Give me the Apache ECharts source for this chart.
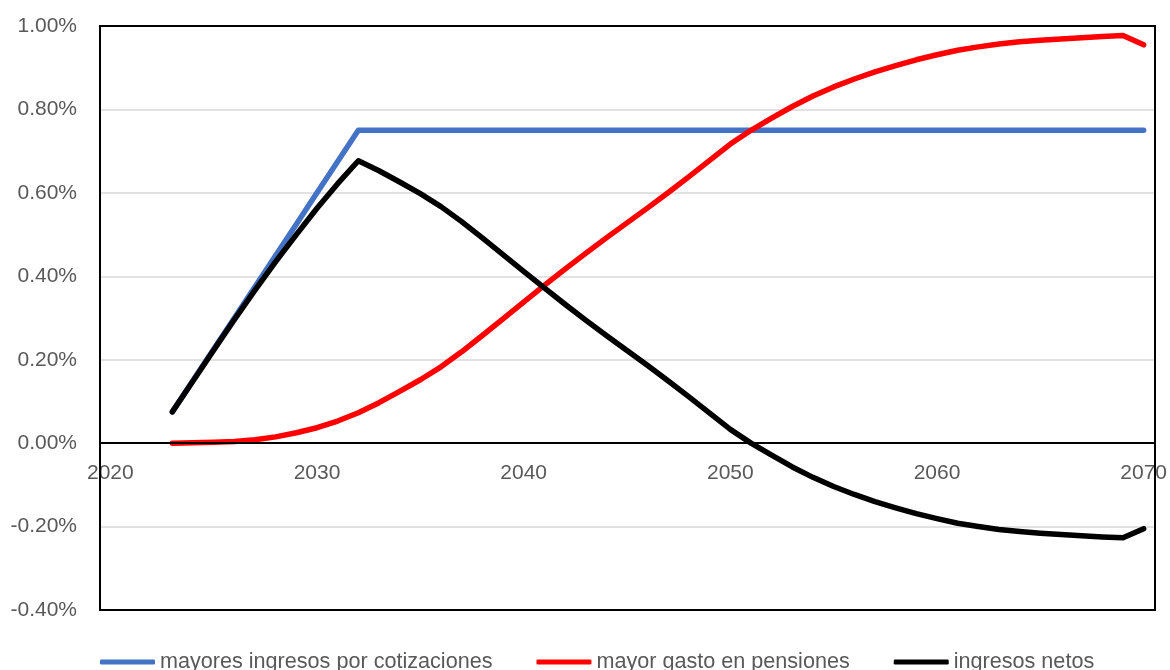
<!DOCTYPE html>
<html>
<head>
<meta charset="utf-8">
<script src="https://cdn.jsdelivr.net/npm/echarts@6/dist/echarts.min.js"></script>
<style>
  html, body { margin: 0; padding: 0; background: #fff; }
  #chart { width: 1170px; height: 670px; }
</style>
</head>
<body>
<div id="chart"></div>
<script>
// Years on the category axis (labels shown every 10 years)
const years = [
  '2020','2021','2022','2023','2024','2025','2026','2027','2028','2029',
  '2030','2031','2032','2033','2034','2035','2036','2037','2038','2039',
  '2040','2041','2042','2043','2044','2045','2046','2047','2048','2049',
  '2050','2051','2052','2053','2054','2055','2056','2057','2058','2059',
  '2060','2061','2062','2063','2064','2065','2066','2067','2068','2069',
  '2070'
];

// Values in percentage points of GDP; null where the series has no value yet
const mayoresIngresos = [
  null, null, null, 0.075, 0.150, 0.225, 0.300, 0.375, 0.450, 0.525,
  0.600, 0.675, 0.750, 0.750, 0.750, 0.750, 0.750, 0.750, 0.750, 0.750,
  0.750, 0.750, 0.750, 0.750, 0.750, 0.750, 0.750, 0.750, 0.750, 0.750,
  0.750, 0.750, 0.750, 0.750, 0.750, 0.750, 0.750, 0.750, 0.750, 0.750,
  0.750, 0.750, 0.750, 0.750, 0.750, 0.750, 0.750, 0.750, 0.750, 0.750,
  0.750
];

const mayorGasto = [
  null, null, null, 0.000, 0.001, 0.002, 0.004, 0.008, 0.015, 0.025,
  0.037, 0.053, 0.073, 0.097, 0.124, 0.152, 0.183, 0.219, 0.258, 0.298,
  0.338, 0.378, 0.417, 0.455, 0.492, 0.528, 0.564, 0.601, 0.639, 0.678,
  0.717, 0.750, 0.779, 0.807, 0.832, 0.854, 0.873, 0.890, 0.905, 0.919,
  0.931, 0.942, 0.950, 0.957, 0.962, 0.966, 0.969, 0.972, 0.975, 0.977,
  0.955
];

const ingresosNetos = [
  null, null, null, 0.075, 0.149, 0.223, 0.296, 0.367, 0.435, 0.500,
  0.563, 0.622, 0.677, 0.653, 0.626, 0.598, 0.567, 0.531, 0.492, 0.452,
  0.412, 0.372, 0.333, 0.295, 0.258, 0.222, 0.186, 0.149, 0.111, 0.072,
  0.033, 0.000, -0.029, -0.057, -0.082, -0.104, -0.123, -0.140, -0.155, -0.169,
  -0.181, -0.192, -0.200, -0.207, -0.212, -0.216, -0.219, -0.222, -0.225, -0.227,
  -0.205
];

const seriesNames = [
  'mayores ingresos por cotizaciones',
  'mayor gasto en pensiones',
  'ingresos netos'
];
const seriesColors = ['#4472C4', '#FF0000', '#000000'];

const FONT = 'Liberation Sans, Arial, sans-serif';
const TEXT = '#595959';

// Plot area
const PLOT = { left: 100, top: 26, right: 15, bottom: 60 };
const PLOT_W = 1170 - PLOT.left - PLOT.right;
const PLOT_H = 670 - PLOT.top - PLOT.bottom;
const Y_MIN = -0.4, Y_MAX = 1.0;
// distance from the bottom edge of the plot up to the zero line
const ZERO_OFFSET = PLOT_H * (0 - Y_MIN) / (Y_MAX - Y_MIN);

const chart = echarts.init(document.getElementById('chart'), null, { renderer: 'canvas' });

function lineSeries(name, data, color) {
  return {
    name: name,
    type: 'line',
    data: data,
    showSymbol: false,
    symbol: 'none',
    connectNulls: false,
    animation: false,
    z: 3,
    lineStyle: { color: color, width: 5.5, cap: 'round', join: 'round' },
    itemStyle: { color: color }
  };
}

chart.setOption({
  backgroundColor: '#ffffff',
  animation: false,
  textStyle: { fontFamily: FONT },
  grid: {
    left: PLOT.left, top: PLOT.top, right: PLOT.right, bottom: PLOT.bottom,
    containLabel: false
  },
  legend: {
    left: 100,
    top: 651,
    padding: 0,
    icon: 'roundRect',
    itemWidth: 55,
    itemHeight: 5,
    itemGap: 44,
    textStyle: { color: TEXT, fontSize: 21.6, fontFamily: FONT },
    data: seriesNames
  },
  // plot frame drawn above the gridlines
  graphic: [{
    type: 'rect',
    z: 10,
    silent: true,
    shape: { x: PLOT.left, y: PLOT.top, width: PLOT_W, height: PLOT_H },
    style: { fill: null, stroke: '#000000', lineWidth: 2 }
  }],
  xAxis: {
    type: 'category',
    data: years,
    boundaryGap: true,
    position: 'bottom',
    offset: -ZERO_OFFSET,
    z: 4,
    axisLine: { onZero: false, lineStyle: { color: '#000000', width: 2 } },
    axisTick: { show: false },
    axisLabel: {
      interval: 9,
      margin: 20,
      color: TEXT,
      fontSize: 21,
      fontFamily: FONT,
      showMinLabel: true,
      showMaxLabel: true,
      hideOverlap: false
    },
    splitLine: { show: false }
  },
  yAxis: {
    type: 'value',
    min: Y_MIN,
    max: Y_MAX,
    interval: 0.2,
    axisLine: { show: false },
    axisTick: { show: false },
    axisLabel: {
      margin: 23,
      color: TEXT,
      fontSize: 21,
      fontFamily: FONT,
      formatter: function (v) { return v.toFixed(2) + '%'; }
    },
    splitLine: { lineStyle: { color: '#d9d9d9', width: 1.5 } }
  },
  series: [
    lineSeries(seriesNames[0], mayoresIngresos, seriesColors[0]),
    lineSeries(seriesNames[1], mayorGasto, seriesColors[1]),
    lineSeries(seriesNames[2], ingresosNetos, seriesColors[2])
  ]
});
</script>
</body>
</html>
